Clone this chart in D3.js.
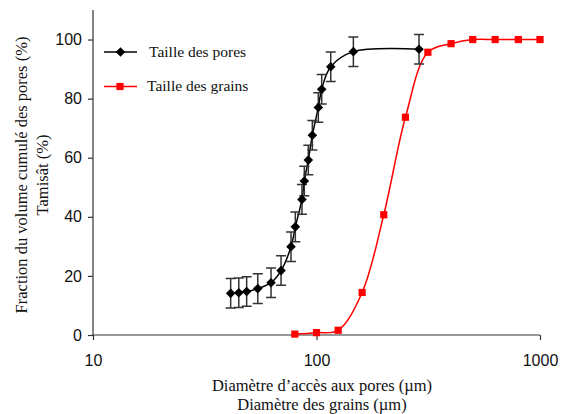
<!DOCTYPE html>
<html><head><meta charset="utf-8">
<script src="https://cdn.jsdelivr.net/npm/d3@7"></script>
<style>
html,body{margin:0;padding:0;background:#fff;}
svg{display:block;}
</style></head>
<body>
<svg id="c" width="568" height="414"></svg>
<script>
// ---- data ----
const poreDiam = [41.3, 44.9, 48.7, 54.6, 62.6, 69.4, 76.9, 80.4, 86.1, 88.2, 91.9, 95.8, 101.9, 105.5, 115.8, 146.2, 287.5];
const porePct  = [14.1, 14.3, 14.7, 15.7, 17.7, 21.8, 29.9, 36.6, 45.9, 52.1, 59.2, 67.6, 77.0, 83.2, 90.8, 95.9, 96.7];
const poreErr  = [5, 5, 5, 5, 5, 5, 5, 5, 5, 5, 5, 5, 5, 5, 5, 5, 5];
const grainDiam = [80, 100, 125, 160, 200, 250, 315, 400, 500, 630, 800, 1000];
const grainPct  = [0.3, 0.8, 1.6, 14.4, 40.7, 73.7, 95.7, 98.6, 100, 100, 100, 100];
const xTicks = [10, 100, 1000];
const yTicks = [0, 20, 40, 60, 80, 100];
const seriesNames = ["Taille des pores", "Taille des grains"];
const xTitle = ["Diamètre d\u2019accès aux pores (\u00b5m)", "Diamètre des grains (\u00b5m)"];
const yTitle = ["Fraction du volume cumulé des pores (%)", "Tamisât (%)"];

// ---- chart ----
const svg = d3.select("#c");
const x = d3.scaleLog().domain([10, 1000]).range([93, 540]);
const y = d3.scaleLinear().domain([0, 110]).range([335, 10]);
const serif = "'Liberation Serif','Times New Roman',serif";
const sans = "'Liberation Sans',Arial,sans-serif";

// axes
const yAx = svg.append("g").attr("transform", "translate(93,0)")
  .call(d3.axisLeft(y).tickValues(yTicks).tickSize(5).tickPadding(6).tickFormat(d3.format("d")));
const xAx = svg.append("g").attr("transform", "translate(0,335)")
  .call(d3.axisBottom(x).tickValues(xTicks).tickSize(5).tickPadding(15).tickFormat(d3.format("d")));
[yAx, xAx].forEach(g => {
  g.select(".domain").attr("stroke", "#333").attr("stroke-width", 1.2);
  g.selectAll(".tick line").attr("stroke", "#333").attr("stroke-width", 1.2);
  g.selectAll("text").attr("font-family", sans).attr("font-size", 16).attr("fill", "#111");
});
// redraw domains as plain lines (no outer ticks)
yAx.select(".domain").attr("d", `M0,${y(0)}V${y(110)}`);
xAx.select(".domain").attr("d", `M${x(10)},0H${x(1000)}`);

// titles
const xt = svg.append("text").attr("font-family", serif).attr("font-size", 16.5).attr("fill", "#111").attr("text-anchor", "middle");
xt.append("tspan").attr("x", 322).attr("y", 391).text(xTitle[0]);
xt.append("tspan").attr("x", 322).attr("y", 410).text(xTitle[1]);
const yt = svg.append("g").attr("transform", "translate(0,175) rotate(-90)");
yt.append("text").attr("x", 0).attr("y", 27).attr("text-anchor", "middle").attr("font-family", serif).attr("font-size", 16.5).attr("fill", "#111").text(yTitle[0]);
yt.append("text").attr("x", 0).attr("y", 48).attr("text-anchor", "middle").attr("font-family", serif).attr("font-size", 16.5).attr("fill", "#111").text(yTitle[1]);

// lines
const line = d3.line().x(d => x(d[0])).y(d => y(d[1])).curve(d3.curveCatmullRom.alpha(0.5));
const pores = poreDiam.map((d, i) => [d, porePct[i], poreErr[i]]);
const grains = grainDiam.map((d, i) => [d, grainPct[i]]);

svg.append("path").datum(grains).attr("d", line).attr("fill", "none").attr("stroke", "#ff0000").attr("stroke-width", 1.5);
svg.append("path").datum(pores).attr("d", line).attr("fill", "none").attr("stroke", "#000").attr("stroke-width", 1.5);

// error bars
const eb = svg.append("g").attr("stroke", "#333").attr("stroke-width", 1.5).attr("fill", "none");
pores.forEach(p => {
  const cx = x(p[0]), t = y(p[1] + p[2]), b = y(p[1] - p[2]);
  eb.append("path").attr("d", `M${cx},${t}V${b}M${cx - 5},${t}H${cx + 5}M${cx - 5},${b}H${cx + 5}`);
});

// markers
const diamond = (cx, cy, r) => `M${cx},${cy - r}L${cx + r},${cy}L${cx},${cy + r}L${cx - r},${cy}Z`;
svg.append("g").selectAll("path").data(pores).join("path")
  .attr("d", d => diamond(x(d[0]), y(d[1]), 4.8)).attr("fill", "#000");
svg.append("g").selectAll("rect").data(grains).join("rect")
  .attr("x", d => x(d[0]) - 3.6).attr("y", d => y(d[1]) - 3.6).attr("width", 7.2).attr("height", 7.2).attr("fill", "#ff0000");

// legend
const lg = svg.append("g");
lg.append("line").attr("x1", 104).attr("x2", 137).attr("y1", 52).attr("y2", 52).attr("stroke", "#000").attr("stroke-width", 1.5);
lg.append("path").attr("d", diamond(120.5, 52, 4.8)).attr("fill", "#000");
lg.append("text").attr("x", 149).attr("y", 57).attr("font-family", serif).attr("font-size", 15.5).attr("fill", "#111").text(seriesNames[0]);
lg.append("line").attr("x1", 104).attr("x2", 137).attr("y1", 86.5).attr("y2", 86.5).attr("stroke", "#ff0000").attr("stroke-width", 1.5);
lg.append("rect").attr("x", 116.4).attr("y", 82.9).attr("width", 7.2).attr("height", 7.2).attr("fill", "#ff0000");
lg.append("text").attr("x", 147).attr("y", 91).attr("font-family", serif).attr("font-size", 15.5).attr("fill", "#111").text(seriesNames[1]);
</script>
</body></html>
